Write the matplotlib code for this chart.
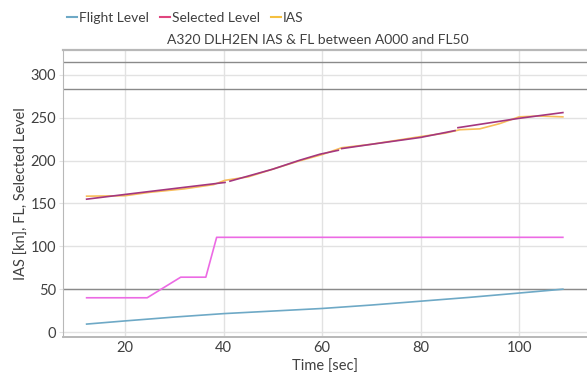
import numpy as np
import matplotlib
matplotlib.use("Agg")
import matplotlib.pyplot as plt
from matplotlib.lines import Line2D

plt.rcParams["font.family"] = ["Lato", "DejaVu Sans"]

# ── Data ──────────────────────────────────────────────────────────────────────
fl_t = [12.2, 20, 30, 40, 50, 60, 70, 80, 90, 100, 108.9]
fl = [9.3, 13, 17.5, 21.5, 24.5, 27.5, 31.5, 36, 40.5, 45.5, 50]

sel_t = [12.2, 24.5, 31.3, 36.4, 38.6, 108.9]
sel = [40, 40, 64, 64, 110.5, 110.5]

trend_t = [12.2, 20, 32, 40.3, np.nan, 41.3, 50, 55.5, 59.6, 63.3, np.nan,
           64.0, 70, 80, 87.0, np.nan, 87.6, 100, 108.9]
trend = [155, 160.5, 168.8, 174.5, np.nan, 176, 190, 200.5, 207.5, 212, np.nan,
         214, 219, 227, 235, np.nan, 238.4, 249.3, 256]

ias_t = [12.2, 20, 25, 32, 38, 40.3, 45, 50, 55, 60, 64, 70, 80, 85, 88, 92,
         96, 100, 104, 108.9]
ias = [158.5, 159, 163, 167, 172, 177, 181, 190, 199, 207, 215, 219, 228,
       232, 236, 237, 243, 251, 252, 251]

ref_levels = [50, 284, 315]

xticks = [20, 40, 60, 80, 100]
yticks = [0, 50, 100, 150, 200, 250, 300]

# ── Colours ───────────────────────────────────────────────────────────────────
BLUE = "#6ea9c6"
MAGENTA = "#ec6ae4"
CRIMSON = "#a4367f"
ORANGE = "#f8bd5a"
GRID = "#e2e2e2"
DARK = "#8a8a8a"
TXT = "#404040"

fig = plt.figure(figsize=(5.87, 3.72), dpi=100)
ax = fig.add_axes([0.1073, 0.094, 0.8927, 0.7716])

ax.plot(fl_t, fl, color=BLUE, lw=1.2)
ax.plot(sel_t, sel, color=MAGENTA, lw=1.2)
ax.plot(ias_t, ias, color=ORANGE, lw=1.2)
ax.plot(trend_t, trend, color=CRIMSON, lw=1.2)

for lv in ref_levels:
    ax.axhline(lv, color=DARK, lw=1.0, zorder=1)

ax.set_xlim(7.4, 113.8)
ax.set_ylim(-5.8, 329)
ax.set_xticks(xticks)
ax.set_yticks(yticks)
ax.grid(True, color=GRID, lw=1.0, zorder=0)
ax.set_axisbelow(True)

ax.spines["right"].set_visible(False)
ax.spines["top"].set_color("#b8b8b8")
ax.spines["top"].set_linewidth(1.6)
ax.spines["left"].set_color("#b8b8b8")
ax.spines["bottom"].set_color("#b8b8b8")
ax.spines["bottom"].set_linewidth(1.4)
ax.tick_params(axis="both", colors=GRID, labelcolor=TXT, labelsize=10.5, length=3)
ax.tick_params(axis="y", pad=2)
ax.tick_params(axis="x", length=0, pad=3)

ax.set_xlabel("Time [sec]", fontsize=10.5, color=TXT, labelpad=3)
ax.set_ylabel("IAS [kn], FL, Selected Level", fontsize=10.5, color=TXT, labelpad=1)

fig.text(0.542, 0.893, "A320 DLH2EN IAS & FL between A000 and FL50",
         ha="center", va="center", fontsize=10, color=TXT)

handles = [Line2D([], [], color=BLUE, lw=1.5),
           Line2D([], [], color="#e0457e", lw=1.5),
           Line2D([], [], color="#f5c040", lw=1.5)]
fig.legend(handles, ["Flight Level", "Selected Level", "IAS"],
           loc="center left", bbox_to_anchor=(0.098, 0.952), ncol=3,
           frameon=False, fontsize=10, handlelength=0.7, handletextpad=0.15,
           columnspacing=0.8, labelcolor=TXT, borderpad=0.2)

fig.savefig("out.png", dpi=100)
